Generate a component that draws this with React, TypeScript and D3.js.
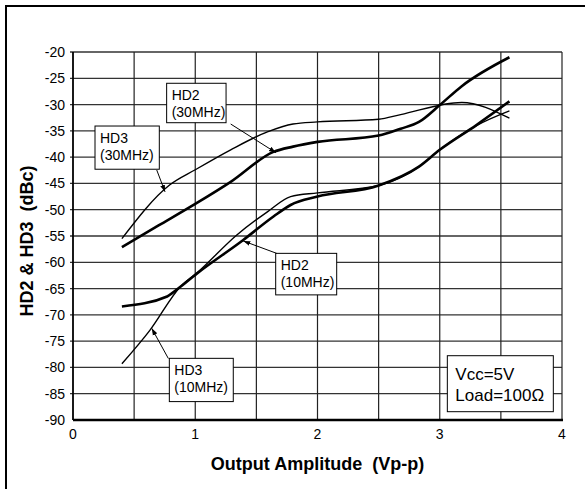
import React from 'react';
import * as d3 from 'd3';

type Pt = [number, number];

// curves: [Vp-p, dBc]
const hd3_30MHz: Pt[] = [
  [0.4, -55.5], [0.79, -45.3], [1.0, -42.4], [1.29, -38.6], [1.59, -35.2], [1.8, -33.7],
  [2.0, -33.3], [2.5, -32.8], [2.68, -31.9], [3.18, -29.6], [3.57, -32.6],
];
const hd2_30MHz: Pt[] = [
  [0.4, -57.1], [0.7, -53.0], [1.0, -48.9], [1.29, -44.7], [1.64, -39.0], [1.8, -38.0],
  [2.0, -37.1], [2.5, -35.9], [2.68, -34.6], [2.83, -33.3], [3.0, -30.1], [3.18, -26.5], [3.57, -21.0],
];
const hd2_10MHz: Pt[] = [
  [0.4, -68.4], [0.77, -66.5], [0.86, -65.0], [1.01, -62.2], [1.39, -55.8], [1.64, -51.3],
  [1.78, -49.1], [2.0, -47.5], [2.5, -45.4], [2.83, -41.8], [3.0, -38.6], [3.3, -33.9], [3.57, -29.4],
];
const hd3_10MHz: Pt[] = [
  [0.4, -79.3], [0.63, -72.9], [0.88, -64.6], [1.01, -62.1], [1.34, -54.8], [1.59, -50.4],
  [1.78, -47.5], [2.0, -46.8], [2.5, -45.4], [2.83, -41.8], [3.0, -38.6], [3.3, -34.0], [3.57, -31.2],
];

const xTicks = [0, 1, 2, 3, 4];
const xGrid = [0.5, 1, 1.5, 2, 2.5, 3, 3.5, 4];
const yTicks = [-20, -25, -30, -35, -40, -45, -50, -55, -60, -65, -70, -75, -80, -85, -90];

// callout boxes: [x0, y0, x1, y1] in data units, text lines, arrow [from, to]
const labels = [
  { box: [0.766, -25.95, 1.252, -33.45], lines: ['HD2', '(30MHz)'], arrow: [[1.29, -33.7], [1.66, -39.15]] },
  { box: [0.18, -34.08, 0.706, -42.3], lines: ['HD3', '(30MHz)'], arrow: [[0.685, -42.45], [0.753, -46.6]] },
  { box: [1.658, -58.3, 2.157, -66.2], lines: ['HD2', '(10MHz)'], arrow: [[1.666, -58.3], [1.393, -55.95]] },
  { box: [0.788, -78.27, 1.311, -86.5], lines: ['HD3', '(10MHz)'], arrow: [[0.78, -78.3], [0.644, -72.56]] },
];
const condBox = [3.062, -77.77, 3.929, -88.42];
const condLines = ['Vcc=5V', 'Load=100Ω'];

const W = 585;
const H = 489;
const M = { left: 73, top: 52, right: 23, bottom: 69 };

const App: React.FC = () => {
  const x = d3.scaleLinear().domain([0, 4]).range([M.left, W - M.right]);
  const y = d3.scaleLinear().domain([-20, -90]).range([M.top, H - M.bottom]);
  const line = d3
    .line<Pt>()
    .x((d) => x(d[0]))
    .y((d) => y(d[1]))
    .curve(d3.curveMonotoneX);

  const font = 'Arial, "Liberation Sans", Helvetica, sans-serif';

  return (
    <svg
      width={W}
      height={H}
      style={{ position: 'absolute', left: 0, top: 0, background: '#fff' }}
      fontFamily={font}
    >
      <defs>
        <marker id="arr" viewBox="0 0 10 10" refX="10" refY="5" markerWidth="7" markerHeight="7" orient="auto">
          <path d="M0,1.5 L10,5 L0,8.5 z" fill="#000" />
        </marker>
      </defs>
      <rect x={6} y={6} width={700} height={600} fill="none" stroke="#000" strokeWidth={2} />

      {/* grid */}
      {yTicks.slice(0, -1).map((t) => (
        <line key={'h' + t} x1={x(0) - 3} x2={x(4)} y1={y(t)} y2={y(t)} stroke="#333" strokeWidth={1.3} />
      ))}
      {xGrid.map((t) => (
        <line key={'v' + t} x1={x(t)} x2={x(t)} y1={y(-20)} y2={y(-90)} stroke="#222" strokeWidth={1.2} />
      ))}
      <line x1={x(0)} x2={x(0)} y1={y(-20)} y2={y(-90)} stroke="#000" strokeWidth={1.8} />
      <line x1={x(0)} x2={x(4) + 1} y1={y(-90)} y2={y(-90)} stroke="#000" strokeWidth={2.5} />

      {/* tick labels */}
      {yTicks.map((t) => (
        <text key={'yl' + t} x={x(0) - 8} y={y(t) + 5} textAnchor="end" fontSize={14}>
          {t}
        </text>
      ))}
      {xTicks.map((t) => (
        <text key={'xl' + t} x={x(t)} y={y(-90) + 19} textAnchor="middle" fontSize={14}>
          {t}
        </text>
      ))}

      {/* titles */}
      <text
        x={(x(0) + x(4)) / 2}
        y={470}
        textAnchor="middle"
        fontSize={18}
        fontWeight="bold"
        style={{ whiteSpace: 'pre' }}
      >
        Output Amplitude  (Vp-p)
      </text>
      <text
        transform={`translate(33,${(y(-20) + y(-90)) / 2 + 5}) rotate(-90)`}
        textAnchor="middle"
        fontSize={18}
        fontWeight="bold"
        style={{ whiteSpace: 'pre' }}
      >
        HD2 &amp; HD3  (dBc)
      </text>

      {/* curves */}
      <path d={line(hd3_30MHz) || ''} fill="none" stroke="#000" strokeWidth={1.4} />
      <path d={line(hd2_30MHz) || ''} fill="none" stroke="#000" strokeWidth={2.6} />
      <path d={line(hd3_10MHz) || ''} fill="none" stroke="#000" strokeWidth={1.4} />
      <path d={line(hd2_10MHz) || ''} fill="none" stroke="#000" strokeWidth={2.6} />

      {/* callouts */}
      {labels.map((l, i) => {
        const [x0, y0, x1, y1] = l.box;
        const [a, b] = l.arrow;
        return (
          <g key={'lab' + i}>
            <rect
              x={x(x0)}
              y={y(y0)}
              width={x(x1) - x(x0)}
              height={y(y1) - y(y0)}
              fill="#fff"
              stroke="#000"
              strokeWidth={1}
            />
            {l.lines.map((s, j) => (
              <text key={j} x={x(x0) + 5} y={y(y0) + 17 + j * 17} fontSize={14}>
                {s}
              </text>
            ))}
            <line
              x1={x(a[0])}
              y1={y(a[1])}
              x2={x(b[0])}
              y2={y(b[1])}
              stroke="#000"
              strokeWidth={1}
              markerEnd="url(#arr)"
            />
          </g>
        );
      })}
      <rect
        x={x(condBox[0])}
        y={y(condBox[1])}
        width={x(condBox[2]) - x(condBox[0])}
        height={y(condBox[3]) - y(condBox[1])}
        fill="#fff"
        stroke="#000"
        strokeWidth={1}
      />
      {condLines.map((s, j) => (
        <text key={'c' + j} x={x(condBox[0]) + 8} y={y(condBox[1]) + 24 + j * 21} fontSize={17}>
          {s}
        </text>
      ))}
    </svg>
  );
};

export default App;
